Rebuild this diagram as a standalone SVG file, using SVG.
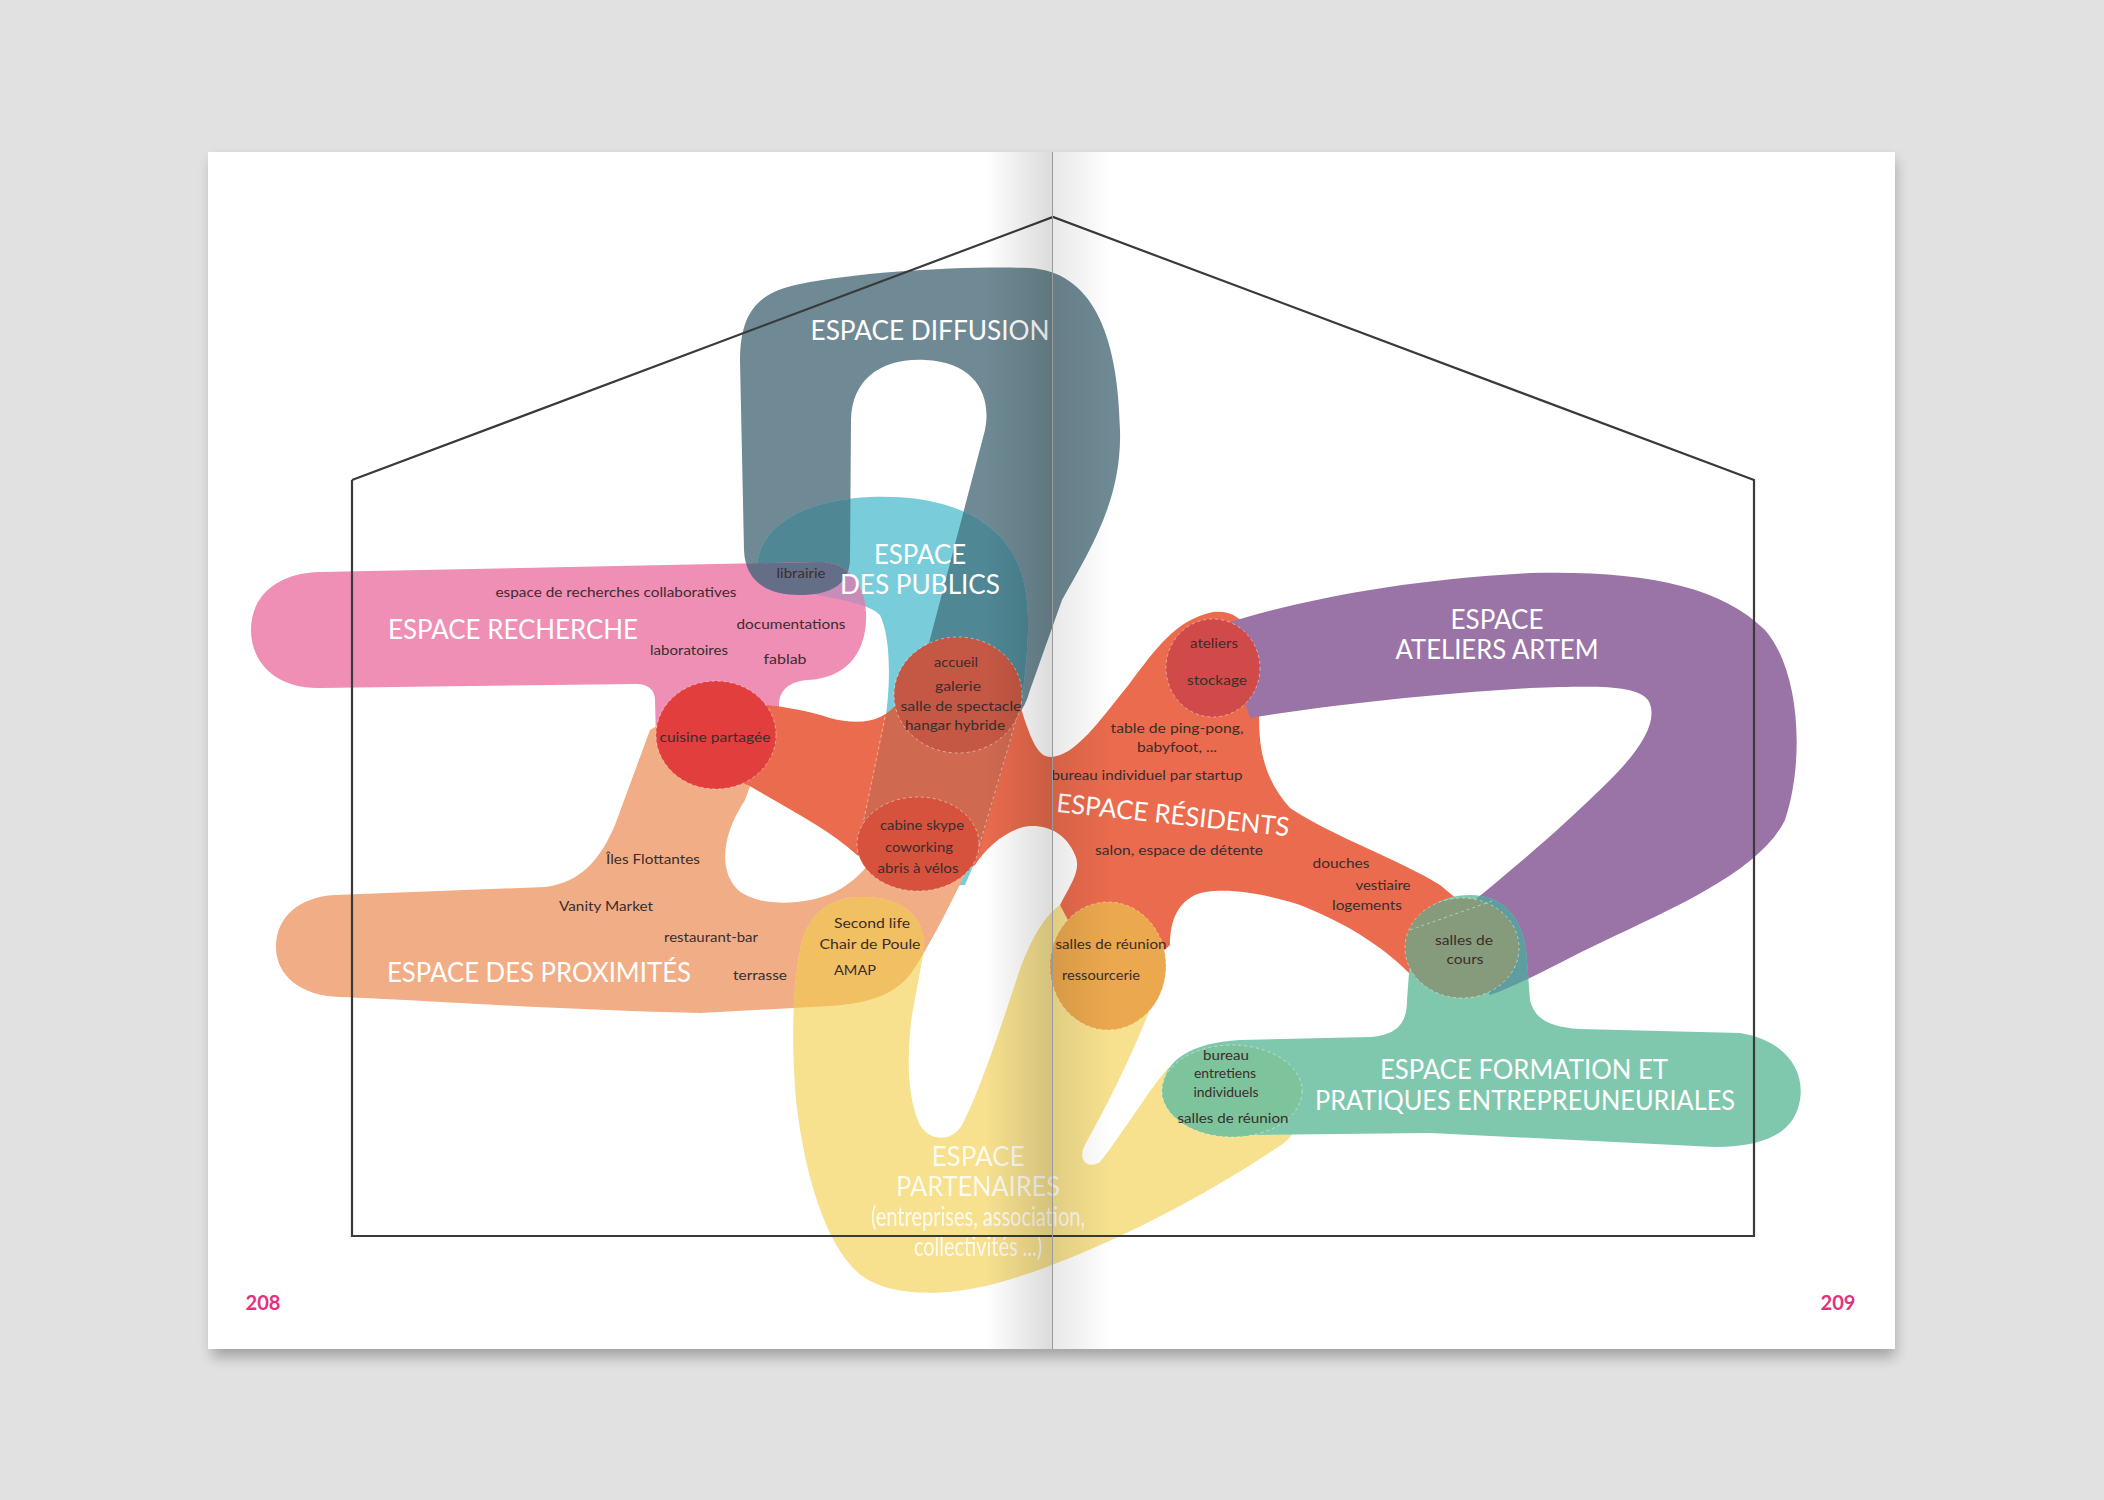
<svg xmlns="http://www.w3.org/2000/svg" xmlns:xlink="http://www.w3.org/1999/xlink" width="2104" height="1500" viewBox="0 0 2104 1500">
<style>
.t{font-family:Lato,'Liberation Sans',sans-serif;font-size:13px;fill:#3b2d2d;text-anchor:middle}
.h{font-family:Lato,'Liberation Sans',sans-serif;font-size:26px;fill:#fff;text-anchor:middle}
.circ{stroke:#fff;stroke-opacity:.45;stroke-width:1;stroke-dasharray:3 3}
.pn{font-family:Lato,'Liberation Sans',sans-serif;font-size:20px;font-weight:bold;fill:#e5307e;text-anchor:middle}
</style>
<defs>
<filter id="shadow" x="-5%" y="-5%" width="110%" height="115%"><feGaussianBlur stdDeviation="7"/></filter>
<linearGradient id="foldL" x1="0" x2="1" y1="0" y2="0"><stop offset="0" stop-color="#000" stop-opacity="0"/><stop offset="1" stop-color="#000" stop-opacity="0.14"/></linearGradient>
<linearGradient id="foldR" x1="0" x2="1" y1="0" y2="0"><stop offset="0" stop-color="#000" stop-opacity="0.09"/><stop offset="1" stop-color="#000" stop-opacity="0"/></linearGradient>
<path id="p-diffusion" d="M 800,595 C 765,595 745,580 744,550 L 740,360 C 740,310 760,292 800,284 C 860,272 960,266 1030,268 C 1090,272 1118,330 1120,430 C 1122,500 1090,550 1062,600 L 1030,690 C 1022,720 1000,738 970,738 C 935,738 912,715 918,685 L 985,430 C 992,395 975,362 925,360 C 880,358 852,380 851,420 L 850,560 C 849,585 830,595 800,595 Z"/>
<path id="p-publics" d="M 757,570 C 757,525 805,500 870,497 C 950,494 1005,520 1022,575 C 1032,610 1028,650 1022,700 L 978,855 L 965,885 L 880,888 L 857,853 L 885,722 C 890,690 892,640 880,615 C 860,595 790,600 757,570 Z"/>
<path id="p-recherche" d="M 320,572 L 820,562 C 852,562 868,590 866,622 C 864,655 845,678 808,680 C 790,681 779,690 779,705 L 779,740 L 656,740 L 655,700 C 655,690 648,684 636,684 L 320,688 C 275,689 251,662 251,630 C 251,595 278,573 320,572 Z"/>
<path id="p-proximites" d="M 700,700 L 765,745 L 745,800 C 722,835 718,870 738,890 C 758,907 805,906 835,892 C 850,884 860,875 868,865 L 968,868 C 950,905 930,945 912,972 C 895,995 870,1003 830,1006 L 700,1013 C 560,1010 420,1000 340,997 C 300,996 276,975 276,947 C 276,918 298,897 335,895 L 545,887 C 580,883 600,860 615,825 L 650,730 Z"/>
<path id="p-partenaires" d="M 860,897 C 900,896 926,915 924,950 L 912,1015 C 906,1060 908,1100 920,1125 C 930,1142 952,1142 962,1125 C 980,1090 1000,1030 1018,975 C 1030,940 1045,915 1060,905 L 1160,920 L 1163,975 C 1140,1040 1110,1100 1086,1143 C 1076,1160 1088,1170 1100,1162 C 1125,1130 1145,1095 1168,1068 L 1230,1060 L 1290,1100 C 1303,1120 1297,1135 1278,1147 C 1200,1200 1080,1262 990,1285 C 940,1297 890,1296 862,1276 C 828,1250 805,1180 796,1100 C 791,1040 793,985 800,950 C 806,915 830,897 860,897 Z"/>
<path id="p-residents" d="M 700,705 C 740,700 790,705 830,718 C 860,726 885,722 900,700 L 960,640 L 1015,690 C 1028,730 1035,757 1050,757 C 1075,757 1100,720 1130,683 C 1155,650 1175,620 1213,612 C 1245,608 1262,640 1260,690 C 1258,730 1256,770 1290,808 C 1330,835 1400,860 1440,885 L 1470,910 L 1420,985 C 1390,950 1350,925 1300,905 C 1270,895 1220,885 1195,895 C 1175,905 1170,925 1170,945 L 1110,1000 L 1060,905 C 1070,885 1082,870 1075,855 C 1065,830 1040,822 1020,828 C 1000,835 985,850 975,865 L 920,890 L 857,855 C 830,830 790,810 748,785 L 700,770 Z"/>
<path id="p-ateliers" d="M 1220,625 C 1300,600 1400,580 1530,573 C 1640,570 1720,585 1765,630 C 1800,670 1805,760 1785,820 C 1760,870 1680,905 1600,943 C 1560,962 1520,985 1490,995 L 1450,920 C 1500,880 1560,830 1610,780 C 1640,750 1660,720 1648,700 C 1635,685 1600,686 1530,688 C 1420,695 1330,705 1250,718 Z"/>
<path id="p-formation" d="M 1410,960 C 1410,910 1440,895 1470,895 C 1505,895 1525,920 1527,960 L 1530,1000 C 1535,1020 1550,1027 1580,1029 L 1740,1033 C 1785,1040 1805,1070 1800,1100 C 1795,1130 1770,1147 1715,1147 L 1430,1133 L 1250,1135 C 1190,1138 1160,1110 1162,1090 C 1164,1060 1190,1043 1240,1040 L 1370,1037 C 1400,1035 1407,1020 1407,1000 Z"/>
<clipPath id="c-publics"><use xlink:href="#p-publics"/></clipPath>
<clipPath id="c-recherche"><use xlink:href="#p-recherche"/></clipPath>
<clipPath id="c-partenaires"><use xlink:href="#p-partenaires"/></clipPath>
<clipPath id="c-residents"><use xlink:href="#p-residents"/></clipPath>
<clipPath id="c-formation"><use xlink:href="#p-formation"/></clipPath>
</defs>

<rect x="0" y="0" width="2104" height="1500" fill="#e1e1e1"/>
<g id="page">
<rect x="212" y="160" width="1683" height="1197" fill="#000" opacity="0.28" filter="url(#shadow)"/>
<rect x="208" y="152" width="1687" height="1197" fill="#ffffff"/>
</g>

<g id="espace-diffusion"><use xlink:href="#p-diffusion" fill="#6f8a94"/></g>
<g id="espace-publics"><use xlink:href="#p-publics" fill="#79ccd9"/></g>
<g id="overlap-diffusion-publics"><use xlink:href="#p-diffusion" fill="#4f8795" clip-path="url(#c-publics)"/></g>
<g id="espace-recherche"><use xlink:href="#p-recherche" fill="#ef8fb5"/></g>
<g id="overlap-recherche">
<use xlink:href="#p-publics" fill="#c88cb9" clip-path="url(#c-recherche)"/>
<use xlink:href="#p-diffusion" fill="#646e87" clip-path="url(#c-recherche)"/>
</g>
<g id="espace-proximites"><use xlink:href="#p-proximites" fill="#f1ad85"/></g>
<g id="espace-partenaires"><use xlink:href="#p-partenaires" fill="#f7e18f"/></g>
<g id="overlap-proximites-partenaires"><use xlink:href="#p-proximites" fill="#f0c062" clip-path="url(#c-partenaires)"/></g>
<g id="espace-residents"><use xlink:href="#p-residents" fill="#ea6b4d"/></g>
<g id="overlap-publics-residents">
<use xlink:href="#p-publics" fill="#cf6a50" clip-path="url(#c-residents)"/>
<line x1="885" y1="717" x2="857" y2="853" class="circ"/>
<line x1="1019" y1="710" x2="976" y2="857" class="circ"/>
</g>
<g id="espace-ateliers"><use xlink:href="#p-ateliers" fill="#9a74a6"/></g>
<g id="espace-formation"><use xlink:href="#p-formation" fill="#7fc8ae"/></g>
<g id="overlap-ateliers-formation"><use xlink:href="#p-ateliers" fill="#5f9ea0" clip-path="url(#c-formation)"/></g>

<g id="zone-cuisine"><ellipse cx="716" cy="735" rx="60" ry="54" fill="#e23e3e" class="circ"/><text class="t" x="715" y="742" textLength="111" lengthAdjust="spacingAndGlyphs">cuisine partagée</text></g>
<g id="zone-accueil"><ellipse cx="958" cy="695" rx="64" ry="58" fill="#c55844" class="circ"/>
<text class="t" x="956" y="667" textLength="44" lengthAdjust="spacingAndGlyphs">accueil</text>
<text class="t" x="958" y="691" textLength="46" lengthAdjust="spacingAndGlyphs">galerie</text>
<text class="t" x="961" y="711" textLength="121" lengthAdjust="spacingAndGlyphs">salle de spectacle</text>
<text class="t" x="955" y="730" textLength="100" lengthAdjust="spacingAndGlyphs">hangar hybride</text></g>
<g id="zone-cabine"><ellipse cx="918" cy="844" rx="61" ry="47" fill="#d7523c" class="circ"/>
<text class="t" x="922" y="830" textLength="84" lengthAdjust="spacingAndGlyphs">cabine skype</text>
<text class="t" x="919" y="852" textLength="68" lengthAdjust="spacingAndGlyphs">coworking</text>
<text class="t" x="918" y="873" textLength="81" lengthAdjust="spacingAndGlyphs">abris à vélos</text></g>
<g id="zone-ateliers"><ellipse cx="1213" cy="668" rx="47" ry="49" fill="#d14a4a" class="circ"/>
<text class="t" x="1214" y="648" textLength="48" lengthAdjust="spacingAndGlyphs">ateliers</text>
<text class="t" x="1217" y="685" textLength="60" lengthAdjust="spacingAndGlyphs">stockage</text></g>
<g id="zone-reunion"><ellipse cx="1108" cy="966" rx="58" ry="64" fill="#eca84e" class="circ"/>
<text class="t" x="1111" y="949" textLength="111" lengthAdjust="spacingAndGlyphs">salles de réunion</text>
<text class="t" x="1101" y="980" textLength="78" lengthAdjust="spacingAndGlyphs">ressourcerie</text></g>
<g id="zone-cours"><ellipse cx="1462" cy="948" rx="57" ry="50" fill="#869b7b" class="circ"/>
<line x1="1410" y1="930" x2="1495" y2="900" class="circ"/>
<text class="t" x="1464" y="945" textLength="58" lengthAdjust="spacingAndGlyphs">salles de</text>
<text class="t" x="1465" y="964" textLength="37" lengthAdjust="spacingAndGlyphs">cours</text></g>
<g id="zone-bureau"><ellipse cx="1232" cy="1091" rx="70" ry="46" fill="#7dc39b" class="circ"/>
<text class="t" x="1226" y="1060" textLength="46" lengthAdjust="spacingAndGlyphs">bureau</text>
<text class="t" x="1225" y="1078" textLength="62" lengthAdjust="spacingAndGlyphs">entretiens</text>
<text class="t" x="1226" y="1097" textLength="65" lengthAdjust="spacingAndGlyphs">individuels</text>
<text class="t" x="1233" y="1123" textLength="111" lengthAdjust="spacingAndGlyphs">salles de réunion</text></g>

<g id="labels-diffusion"><text class="h" x="930" y="340" font-size="25" textLength="239" lengthAdjust="spacingAndGlyphs">ESPACE DIFFUSION</text></g>
<g id="labels-publics">
<text class="h" x="920" y="564" textLength="92" lengthAdjust="spacingAndGlyphs">ESPACE</text>
<text class="h" x="920" y="594" textLength="160" lengthAdjust="spacingAndGlyphs">DES PUBLICS</text>
<text class="t" x="801" y="578" textLength="49" lengthAdjust="spacingAndGlyphs">librairie</text></g>
<g id="labels-recherche">
<text class="h" x="513" y="639" font-size="27" textLength="250" lengthAdjust="spacingAndGlyphs">ESPACE RECHERCHE</text>
<text class="t" x="616" y="597" textLength="241" lengthAdjust="spacingAndGlyphs">espace de recherches collaboratives</text>
<text class="t" x="791" y="629" textLength="109" lengthAdjust="spacingAndGlyphs">documentations</text>
<text class="t" x="689" y="655" textLength="78" lengthAdjust="spacingAndGlyphs">laboratoires</text>
<text class="t" x="785" y="664" textLength="43" lengthAdjust="spacingAndGlyphs">fablab</text></g>
<g id="labels-proximites">
<text class="h" x="539" y="982" font-size="27" textLength="304" lengthAdjust="spacingAndGlyphs">ESPACE DES PROXIMITÉS</text>
<text class="t" x="653" y="864" textLength="94" lengthAdjust="spacingAndGlyphs">Îles Flottantes</text>
<text class="t" x="606" y="911" textLength="94" lengthAdjust="spacingAndGlyphs">Vanity Market</text>
<text class="t" x="711" y="942" textLength="94" lengthAdjust="spacingAndGlyphs">restaurant-bar</text>
<text class="t" x="760" y="980" textLength="54" lengthAdjust="spacingAndGlyphs">terrasse</text>
<text class="t" x="872" y="928" textLength="76" lengthAdjust="spacingAndGlyphs">Second life</text>
<text class="t" x="870" y="949" textLength="101" lengthAdjust="spacingAndGlyphs">Chair de Poule</text>
<text class="t" x="855" y="975" textLength="42" lengthAdjust="spacingAndGlyphs">AMAP</text></g>
<g id="labels-residents">
<text class="h" x="1172" y="824" font-size="27" textLength="234" lengthAdjust="spacingAndGlyphs" transform="rotate(6 1172 824)">ESPACE RÉSIDENTS</text>
<text class="t" x="1177" y="733" textLength="133" lengthAdjust="spacingAndGlyphs">table de ping-pong,</text>
<text class="t" x="1177" y="752" textLength="80" lengthAdjust="spacingAndGlyphs">babyfoot, ...</text>
<text class="t" x="1147" y="780" textLength="191" lengthAdjust="spacingAndGlyphs">bureau individuel par startup</text>
<text class="t" x="1179" y="855" textLength="168" lengthAdjust="spacingAndGlyphs">salon, espace de détente</text>
<text class="t" x="1341" y="868" textLength="57" lengthAdjust="spacingAndGlyphs">douches</text>
<text class="t" x="1383" y="890" textLength="55" lengthAdjust="spacingAndGlyphs">vestiaire</text>
<text class="t" x="1367" y="910" textLength="70" lengthAdjust="spacingAndGlyphs">logements</text></g>
<g id="labels-ateliers">
<text class="h" x="1497" y="629" textLength="93" lengthAdjust="spacingAndGlyphs">ESPACE</text>
<text class="h" x="1497" y="659" textLength="203" lengthAdjust="spacingAndGlyphs">ATELIERS ARTEM</text></g>
<g id="labels-formation">
<text class="h" x="1524" y="1079" textLength="288" lengthAdjust="spacingAndGlyphs">ESPACE FORMATION ET</text>
<text class="h" x="1525" y="1110" textLength="420" lengthAdjust="spacingAndGlyphs">PRATIQUES ENTREPREUNEURIALES</text></g>
<g id="labels-partenaires" opacity="0.85">
<text class="h" x="978" y="1166" font-size="25" textLength="93" lengthAdjust="spacingAndGlyphs">ESPACE</text>
<text class="h" x="978" y="1196" font-size="25" textLength="164" lengthAdjust="spacingAndGlyphs">PARTENAIRES</text>
<text class="h" x="978" y="1226" font-size="15" textLength="214" lengthAdjust="spacingAndGlyphs">(entreprises, association,</text>
<text class="h" x="978" y="1256" font-size="15" textLength="128" lengthAdjust="spacingAndGlyphs">collectivités ...)</text></g>

<g id="house"><polyline points="352,480 1053,217 1754,480 1754,1236 352,1236 352,480" fill="none" stroke="#3a3a3a" stroke-width="2.2" stroke-linejoin="miter"/></g>

<g id="fold">
<rect x="985" y="152" width="67" height="1197" fill="url(#foldL)"/>
<rect x="1052" y="152" width="60" height="1197" fill="url(#foldR)"/>
<line x1="1052.5" y1="152" x2="1052.5" y2="1349" stroke="#9a9a9a" stroke-width="1"/>
</g>
<g id="page-numbers">
<text class="pn" x="263" y="1310" textLength="35" lengthAdjust="spacingAndGlyphs">208</text>
<text class="pn" x="1838" y="1310" textLength="35" lengthAdjust="spacingAndGlyphs">209</text>
</g>
</svg>
